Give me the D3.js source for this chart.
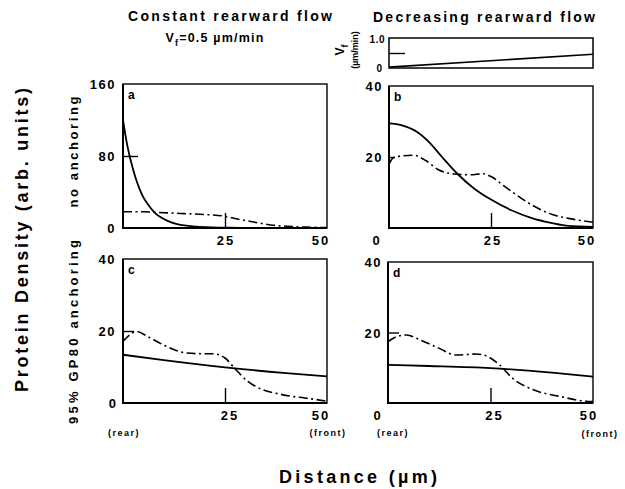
<!DOCTYPE html>
<html>
<head>
<meta charset="utf-8">
<script src="https://cdn.jsdelivr.net/npm/d3@7/dist/d3.min.js"></script>
<style>
  body { margin: 0; background: #fff; }
  svg { display: block; font-family: "Liberation Sans", Arial, sans-serif; font-weight: bold; }
  .tick line { stroke: #000; stroke-width: 1.4; }
  .domain { display: none; }
</style>
</head>
<body>
<div id="wrapper"></div>
<script>
// DATA (distance in um, rear = 0, front = 50)

// a : constant flow, no anchoring
const aSolidX = [0, 1, 2, 3, 4, 5, 6, 8, 10, 12, 15, 18, 22, 26, 30, 35, 40, 45, 50];
const aSolidY = [120, 93, 73, 57, 44, 34, 27, 16, 10, 6, 2.8, 1.4, 0.6, 0.3, 0.2, 0.1, 0.1, 0.1, 0.1];
const aDashX  = [0, 5, 10, 15, 20, 25, 28, 31, 34, 37, 40, 45, 50];
const aDashY  = [18, 18, 17, 16, 15, 13, 10, 7.5, 5, 3, 2, 1, 0.5];

// b : decreasing flow, no anchoring
const bSolidX = [0, 3, 7, 10, 13, 17, 21, 25, 30, 35, 40, 44, 50];
const bSolidY = [29.5, 29, 27, 24, 20, 15, 11, 8, 5, 2.8, 1.4, 0.6, 0.3];
const bDashX  = [0, 1, 3, 6, 9, 12, 16, 20, 23, 25, 28, 31, 35, 40, 45, 50];
const bDashY  = [18, 19.7, 20.3, 20.5, 19, 16.5, 15.2, 15, 15.3, 14.5, 12, 9.5, 6.5, 3.8, 2.5, 1.6];

// c : constant flow, 95% GP80 anchoring
const cSolidX = [0, 10, 25, 40, 50];
const cSolidY = [13.4, 11.9, 9.9, 8.3, 7.4];
const cDashX  = [0, 1.5, 3.3, 6, 9.8, 13, 15.5, 19, 22, 25, 27.3, 30.6, 34, 37.9, 41, 44.5, 50];
const cDashY  = [17.1, 18.8, 19.9, 18.5, 16.2, 14.6, 13.9, 13.7, 13.7, 12.5, 9.7, 6, 3.8, 2.6, 1.9, 1.4, 0.5];

// d : decreasing flow, 95% GP80 anchoring
const dSolidX = [0, 10, 25, 40, 50];
const dSolidY = [10.8, 10.5, 9.9, 8.6, 7.5];
const dDashX  = [0, 2, 4.5, 8, 12.5, 16.6, 21.5, 24.3, 27.2, 30.4, 35.3, 41.8, 48.3, 50];
const dDashY  = [17.4, 18.8, 19.3, 17.8, 15.5, 13.6, 13.9, 13.2, 10.8, 7, 3.8, 1.9, 0.5, 0.4];

// flow velocity profile (um/min) for the decreasing case
const vfX = [0, 50];
const vfY = [0.03, 0.46];

const yTickLabelsTop = ['160', '80', '0'];
const yTickLabels = ['40', '20'];
const xTickLabels = ['0', '25', '50'];

const zip = (xs, ys) => xs.map((v, i) => [v, ys[i]]);

const width = 625, height = 489;

const svg = d3.select('#wrapper')
              .append('svg')
              .attr('width', width)
              .attr('height', height);

// panel boxes (pixels)
const panels = [
  { id: 'a', left: 123, right: 327, top: 84,  bottom: 228, ymax: 160, ytick: 80, ytickLen: 15, solid: zip(aSolidX, aSolidY), dash: zip(aDashX, aDashY) },
  { id: 'b', left: 389, right: 593, top: 86,  bottom: 228, ymax: 40,  ytick: 20, ytickLen: 6,  solid: zip(bSolidX, bSolidY), dash: zip(bDashX, bDashY) },
  { id: 'c', left: 123, right: 327, top: 259, bottom: 403, ymax: 40,  ytick: 20, ytickLen: 11, solid: zip(cSolidX, cSolidY), dash: zip(cDashX, cDashY) },
  { id: 'd', left: 388, right: 593, top: 262, bottom: 403, ymax: 40,  ytick: 20, ytickLen: 11, solid: zip(dSolidX, dSolidY), dash: zip(dDashX, dDashY) }
];

panels.forEach(function(p) {
  p.x = d3.scaleLinear().domain([0, 50]).range([p.left, p.right]);
  p.y = d3.scaleLinear().domain([0, p.ymax]).range([p.bottom, p.top]);

  let g = svg.append('g').attr('class', 'panel');

  g.append('rect')
    .attr('x', p.left).attr('y', p.top)
    .attr('width', p.right - p.left).attr('height', p.bottom - p.top)
    .style('fill', 'none').style('stroke', '#000').style('stroke-width', 1.4);

  // thicker left + bottom axis lines
  g.append('path')
    .attr('d', `M${p.left},${p.top}V${p.bottom}H${p.right}`)
    .style('fill', 'none').style('stroke', '#000').style('stroke-width', 2);

  // inner ticks
  g.append('g')
    .attr('transform', `translate(0,${p.bottom})`)
    .call(d3.axisTop(p.x).tickValues([25]).tickSize(15).tickFormat(''));
  g.append('g')
    .attr('transform', `translate(${p.left},0)`)
    .call(d3.axisRight(p.y).tickValues([p.ytick]).tickSize(p.ytickLen).tickFormat(''));

  let line = d3.line()
               .x(d => p.x(d[0]))
               .y(d => p.y(d[1]))
               .curve(d3.curveMonotoneX);

  g.append('path')
    .attr('d', line(p.solid))
    .style('fill', 'none').style('stroke', '#000').style('stroke-width', 1.8);
  g.append('path')
    .attr('d', line(p.dash))
    .style('fill', 'none').style('stroke', '#000').style('stroke-width', 1.6)
    .style('stroke-dasharray', '9,3.5,2,3.5');

  g.append('text')
    .attr('x', p.left + 5).attr('y', p.top + 15)
    .style('font-size', '12px')
    .text(p.id);
});

// Vf strip above panel b
const vx = d3.scaleLinear().domain([0, 50]).range([389, 593]);
const vy = d3.scaleLinear().domain([0, 1]).range([68, 38]);
svg.append('rect')
   .attr('x', 389).attr('y', 38).attr('width', 204).attr('height', 30)
   .style('fill', 'none').style('stroke', '#000').style('stroke-width', 1.5);
svg.append('g')
   .attr('transform', 'translate(389,0)')
   .call(d3.axisRight(vy).tickValues([0.5]).tickSize(16).tickFormat(''));
svg.append('path')
   .attr('d', d3.line().x(d => vx(d[0])).y(d => vy(d[1]))(zip(vfX, vfY)))
   .style('fill', 'none').style('stroke', '#000').style('stroke-width', 1.6);

// ---------- text ----------
function label(x, y, txt, size, anchor, spacing) {
  return svg.append('text')
            .attr('x', x).attr('y', y)
            .attr('text-anchor', anchor || 'middle')
            .attr('letter-spacing', spacing || 0)
            .style('font-size', size + 'px')
            .text(txt);
}

// rotated label squeezed / stretched to a given length
function vlabel(x, y, txt, size, len) {
  return svg.append('text')
            .attr('transform', `translate(${x},${y}) rotate(-90)`)
            .attr('text-anchor', 'middle')
            .attr('textLength', len)
            .attr('lengthAdjust', 'spacing')
            .style('font-size', size + 'px')
            .text(txt);
}

// column titles
label(230, 21, 'Constant rearward flow', 14, 'middle', 0)
  .attr('textLength', 204).attr('lengthAdjust', 'spacing');
let vt = label(215, 42, '', 12.5, 'middle', 1.2);
vt.append('tspan').text('V');
vt.append('tspan').attr('dy', 4).style('font-size', '9px').text('f');
vt.append('tspan').attr('dy', -4).text('=0.5 \u00b5m/min');
label(484, 22, 'Decreasing rearward flow', 14, 'middle', 0)
  .attr('textLength', 222).attr('lengthAdjust', 'spacing');

// Vf strip axis
label(385, 43, '1.0', 10, 'end', 0.5);
label(382, 72, '0', 10, 'end', 0);
let vl = svg.append('text')
            .attr('transform', 'translate(344,50) rotate(-90)')
            .attr('text-anchor', 'middle')
            .style('font-size', '12px');
vl.append('tspan').text('V');
vl.append('tspan').attr('dy', 4).style('font-size', '9px').text('f');
svg.append('text')
   .attr('transform', 'translate(358,50) rotate(-90)')
   .attr('text-anchor', 'middle')
   .style('font-size', '9px')
   .text('(\u00b5m/min)');

// y tick labels
const pa = panels[0], pb = panels[1], pc = panels[2], pd = panels[3];
[160, 80, 0].forEach((v, i) => label(116, pa.y(v) + 5, yTickLabelsTop[i], 13, 'end', 1.5));
[40, 20].forEach((v, i) => label(383, pb.y(v) + 5, yTickLabels[i], 13, 'end', 1.5));
[40, 20].forEach((v, i) => label(116, pc.y(v) + 5, yTickLabels[i], 13, 'end', 1.5));
label(116, pc.y(0) + 5, '0', 13, 'end', 0);
[40, 20].forEach((v, i) => label(382, pd.y(v) + 5, yTickLabels[i], 13, 'end', 1.5));

// x tick labels
label(pa.x(25) + 1, 245, xTickLabels[1], 13, 'middle', 2);
label(pa.x(50) - 6, 245, xTickLabels[2], 13, 'middle', 2);
label(376, 245, xTickLabels[0], 13, 'middle', 0);
label(pb.x(25) + 2, 245, xTickLabels[1], 13, 'middle', 2);
label(pb.x(50) - 6, 245, xTickLabels[2], 13, 'middle', 2);

label(pc.x(25) + 5, 420, xTickLabels[1], 13, 'middle', 2);
label(pc.x(50) - 6, 420, xTickLabels[2], 13, 'middle', 2);
label(377, 420, xTickLabels[0], 13, 'middle', 0);
label(pd.x(25) + 4, 420, xTickLabels[1], 13, 'middle', 2);
label(pd.x(50) - 4, 420, xTickLabels[2], 13, 'middle', 2);

label(124, 436, '(rear)', 9, 'middle', 1.5);
label(328, 436, '(front)', 9, 'middle', 1.5);
label(393, 436, '(rear)', 9, 'middle', 1.5);
label(600, 437, '(front)', 9, 'middle', 1.5);

// axis titles
label(358, 483, 'Distance (\u00b5m)', 18, 'middle', 0)
  .attr('textLength', 158).attr('lengthAdjust', 'spacing');

vlabel(28, 240, 'Protein Density (arb. units)', 18, 304);
vlabel(78, 152, 'no anchoring', 13, 111);
vlabel(78, 332, '95% GP80 anchoring', 13, 184);
</script>
</body>
</html>
